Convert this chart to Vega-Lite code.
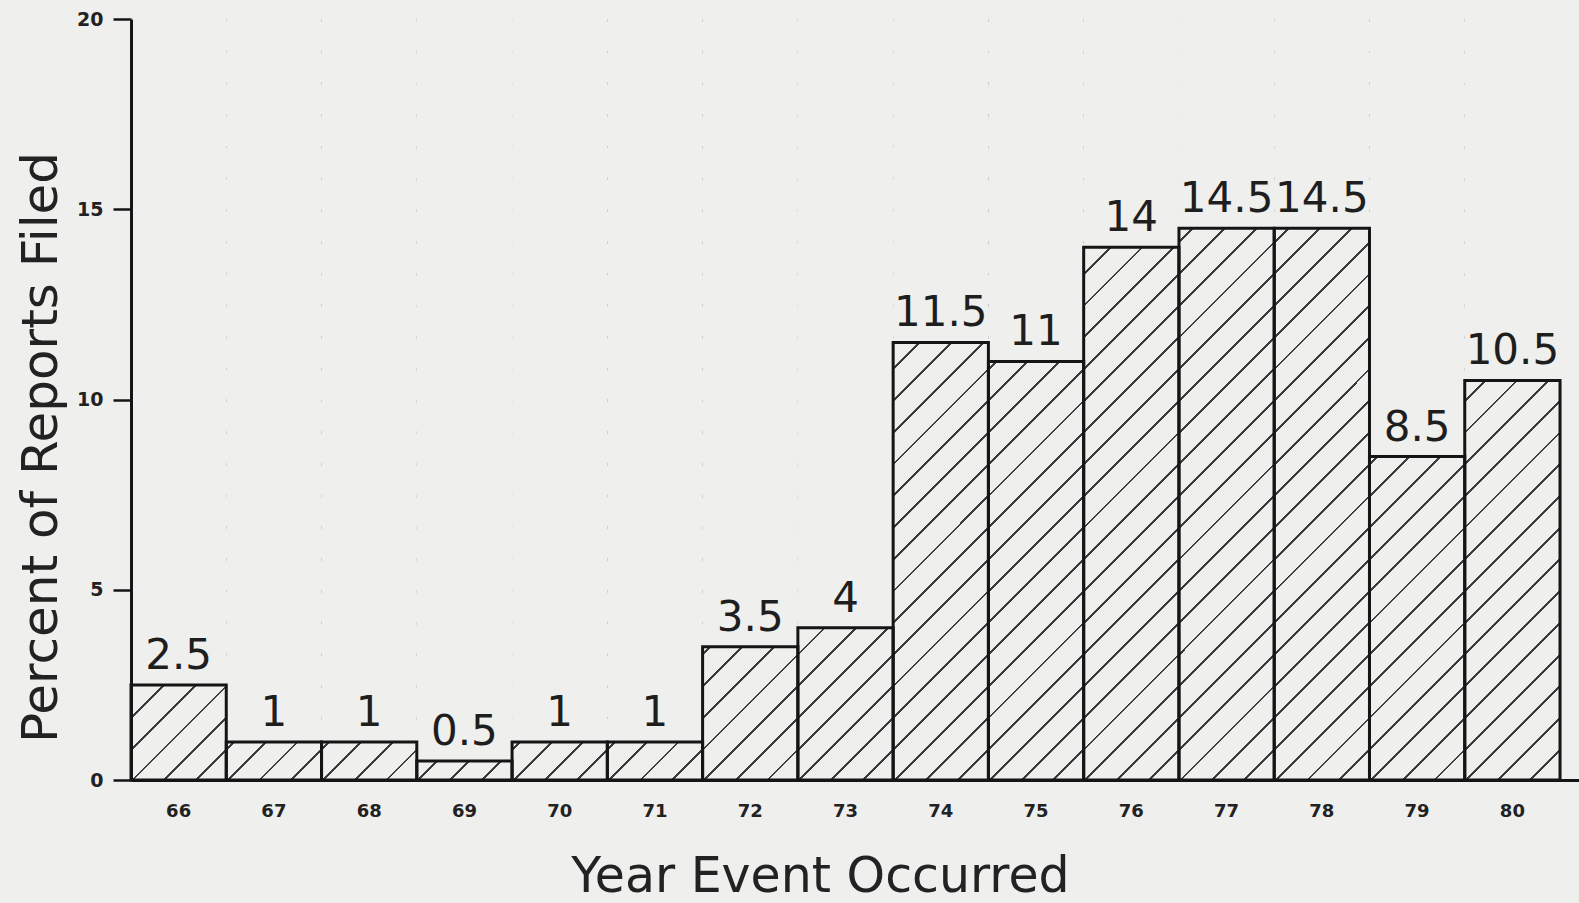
{
  "$schema": "https://vega.github.io/schema/vega-lite/v6.json",
  "width": 1448,
  "height": 761,
  "autosize": {"type": "none"},
  "padding": {"left": 131, "top": 19, "right": 0, "bottom": 123},
  "background": "#efefed",
  "config": {
    "view": {"stroke": null},
    "font": "DejaVu Sans",
    "axisX": {
      "domainColor": "#151515", "domainWidth": 3,
      "ticks": false, "tickSize": 0, "labelAngle": 0, "labelPadding": 22, "labelBaseline": "top",
      "labelFont": "DejaVu Sans", "labelFontWeight": "bold", "labelFontSize": 18, "labelColor": "#222222",
      "grid": false,
      "titleFont": "DejaVu Sans", "titleFontSize": 49, "titleFontWeight": "normal", "titleColor": "#222222",
      "titleX": 689, "titleY": 111, "titleBaseline": "alphabetic", "titleAlign": "center"
    },
    "axisY": {
      "domainColor": "#151515", "domainWidth": 3, "tickCount": 4,
      "tickColor": "#151515", "tickWidth": 2.5, "tickSize": 18,
      "labelPadding": 10, "labelFont": "DejaVu Sans", "labelFontWeight": "bold", "labelFontSize": 19, "labelColor": "#222222",
      "grid": false,
      "titleFont": "DejaVu Sans", "titleFontSize": 50, "titleFontWeight": "normal", "titleColor": "#222222",
      "titleX": -75, "titleY": 428, "titleBaseline": "alphabetic", "titleAlign": "center", "titleAngle": 270
    }
  },
  "data": {
    "values": [
      {"year": "66", "percent": 2.5},
      {"year": "67", "percent": 1},
      {"year": "68", "percent": 1},
      {"year": "69", "percent": 0.5},
      {"year": "70", "percent": 1},
      {"year": "71", "percent": 1},
      {"year": "72", "percent": 3.5},
      {"year": "73", "percent": 4},
      {"year": "74", "percent": 11.5},
      {"year": "75", "percent": 11},
      {"year": "76", "percent": 14},
      {"year": "77", "percent": 14.5},
      {"year": "78", "percent": 14.5},
      {"year": "79", "percent": 8.5},
      {"year": "80", "percent": 10.5}
    ]
  },
  "encoding": {
    "x": {
      "field": "year", "type": "ordinal", "sort": null,
      "scale": {"paddingInner": 0, "paddingOuter": 0.0996, "align": 0},
      "title": "Year Event Occurred",
      "axis": {"zindex": 1}
    }
  },
  "layer": [
    {
      "mark": {
        "type": "bar", "strokeWidth": 0,
        "fill": {
          "gradient": "linear", "x1": 0, "y1": 0, "x2": 0.1387, "y2": 1.1078,
          "stops": [
            {"offset": 0, "color": "#3c3c3c"}, {"offset": 0.0033, "color": "#3c3c3c"}, {"offset": 0.0033, "color": "#efefed"}, {"offset": 0.037, "color": "#efefed"},
            {"offset": 0.037, "color": "#3c3c3c"}, {"offset": 0.0403, "color": "#3c3c3c"}, {"offset": 0.0403, "color": "#efefed"}, {"offset": 0.0741, "color": "#efefed"},
            {"offset": 0.0741, "color": "#3c3c3c"}, {"offset": 0.0774, "color": "#3c3c3c"}, {"offset": 0.0774, "color": "#efefed"}, {"offset": 0.1111, "color": "#efefed"},
            {"offset": 0.1111, "color": "#3c3c3c"}, {"offset": 0.1144, "color": "#3c3c3c"}, {"offset": 0.1144, "color": "#efefed"}, {"offset": 0.1481, "color": "#efefed"},
            {"offset": 0.1481, "color": "#3c3c3c"}, {"offset": 0.1514, "color": "#3c3c3c"}, {"offset": 0.1514, "color": "#efefed"}, {"offset": 0.1852, "color": "#efefed"},
            {"offset": 0.1852, "color": "#3c3c3c"}, {"offset": 0.1885, "color": "#3c3c3c"}, {"offset": 0.1885, "color": "#efefed"}, {"offset": 0.2222, "color": "#efefed"},
            {"offset": 0.2222, "color": "#3c3c3c"}, {"offset": 0.2255, "color": "#3c3c3c"}, {"offset": 0.2255, "color": "#efefed"}, {"offset": 0.2593, "color": "#efefed"},
            {"offset": 0.2593, "color": "#3c3c3c"}, {"offset": 0.2626, "color": "#3c3c3c"}, {"offset": 0.2626, "color": "#efefed"}, {"offset": 0.2963, "color": "#efefed"},
            {"offset": 0.2963, "color": "#3c3c3c"}, {"offset": 0.2996, "color": "#3c3c3c"}, {"offset": 0.2996, "color": "#efefed"}, {"offset": 0.3333, "color": "#efefed"},
            {"offset": 0.3333, "color": "#3c3c3c"}, {"offset": 0.3366, "color": "#3c3c3c"}, {"offset": 0.3366, "color": "#efefed"}, {"offset": 0.3704, "color": "#efefed"},
            {"offset": 0.3704, "color": "#3c3c3c"}, {"offset": 0.3737, "color": "#3c3c3c"}, {"offset": 0.3737, "color": "#efefed"}, {"offset": 0.4074, "color": "#efefed"},
            {"offset": 0.4074, "color": "#3c3c3c"}, {"offset": 0.4107, "color": "#3c3c3c"}, {"offset": 0.4107, "color": "#efefed"}, {"offset": 0.4444, "color": "#efefed"},
            {"offset": 0.4444, "color": "#3c3c3c"}, {"offset": 0.4477, "color": "#3c3c3c"}, {"offset": 0.4477, "color": "#efefed"}, {"offset": 0.4815, "color": "#efefed"},
            {"offset": 0.4815, "color": "#3c3c3c"}, {"offset": 0.4848, "color": "#3c3c3c"}, {"offset": 0.4848, "color": "#efefed"}, {"offset": 0.5185, "color": "#efefed"},
            {"offset": 0.5185, "color": "#3c3c3c"}, {"offset": 0.5218, "color": "#3c3c3c"}, {"offset": 0.5218, "color": "#efefed"}, {"offset": 0.5556, "color": "#efefed"},
            {"offset": 0.5556, "color": "#3c3c3c"}, {"offset": 0.5589, "color": "#3c3c3c"}, {"offset": 0.5589, "color": "#efefed"}, {"offset": 0.5926, "color": "#efefed"},
            {"offset": 0.5926, "color": "#3c3c3c"}, {"offset": 0.5959, "color": "#3c3c3c"}, {"offset": 0.5959, "color": "#efefed"}, {"offset": 0.6296, "color": "#efefed"},
            {"offset": 0.6296, "color": "#3c3c3c"}, {"offset": 0.6329, "color": "#3c3c3c"}, {"offset": 0.6329, "color": "#efefed"}, {"offset": 0.6667, "color": "#efefed"},
            {"offset": 0.6667, "color": "#3c3c3c"}, {"offset": 0.67, "color": "#3c3c3c"}, {"offset": 0.67, "color": "#efefed"}, {"offset": 0.7037, "color": "#efefed"},
            {"offset": 0.7037, "color": "#3c3c3c"}, {"offset": 0.707, "color": "#3c3c3c"}, {"offset": 0.707, "color": "#efefed"}, {"offset": 0.7407, "color": "#efefed"},
            {"offset": 0.7407, "color": "#3c3c3c"}, {"offset": 0.744, "color": "#3c3c3c"}, {"offset": 0.744, "color": "#efefed"}, {"offset": 0.7778, "color": "#efefed"},
            {"offset": 0.7778, "color": "#3c3c3c"}, {"offset": 0.7811, "color": "#3c3c3c"}, {"offset": 0.7811, "color": "#efefed"}, {"offset": 0.8148, "color": "#efefed"},
            {"offset": 0.8148, "color": "#3c3c3c"}, {"offset": 0.8181, "color": "#3c3c3c"}, {"offset": 0.8181, "color": "#efefed"}, {"offset": 0.8519, "color": "#efefed"},
            {"offset": 0.8519, "color": "#3c3c3c"}, {"offset": 0.8552, "color": "#3c3c3c"}, {"offset": 0.8552, "color": "#efefed"}, {"offset": 0.8889, "color": "#efefed"},
            {"offset": 0.8889, "color": "#3c3c3c"}, {"offset": 0.8922, "color": "#3c3c3c"}, {"offset": 0.8922, "color": "#efefed"}, {"offset": 0.9259, "color": "#efefed"},
            {"offset": 0.9259, "color": "#3c3c3c"}, {"offset": 0.9292, "color": "#3c3c3c"}, {"offset": 0.9292, "color": "#efefed"}, {"offset": 0.963, "color": "#efefed"},
            {"offset": 0.963, "color": "#3c3c3c"}, {"offset": 0.9663, "color": "#3c3c3c"}, {"offset": 0.9663, "color": "#efefed"}, {"offset": 1, "color": "#efefed"}
          ]
        }
      },
      "encoding": {
        "y": {"datum": 20, "type": "quantitative", "title": "Percent of Reports Filed", "axis": {"zindex": 1}},
        "y2": {"datum": 0}
      }
    },
    {
      "mark": {"type": "bar", "fill": "#efefed", "strokeWidth": 0},
      "encoding": {
        "y": {"field": "percent", "type": "quantitative", "title": "Percent of Reports Filed", "axis": {"zindex": 1}},
        "y2": {"datum": 20}
      }
    },
    {
      "mark": {"type": "bar", "fill": "#efefed", "fillOpacity": 0, "stroke": "#151515", "strokeWidth": 3},
      "encoding": {
        "y": {"field": "percent", "type": "quantitative", "title": "Percent of Reports Filed", "axis": {"zindex": 1}, "scale": {"domain": [0, 20], "nice": false}}
      }
    },
    {
      "mark": {"type": "text", "font": "DejaVu Sans", "fontSize": 42, "color": "#1e1e1e", "baseline": "alphabetic", "align": "center", "dy": -16},
      "encoding": {
        "y": {"field": "percent", "type": "quantitative", "title": "Percent of Reports Filed", "axis": {"zindex": 1}},
        "text": {"field": "percent", "type": "quantitative"}
      }
    }
  ]
}
